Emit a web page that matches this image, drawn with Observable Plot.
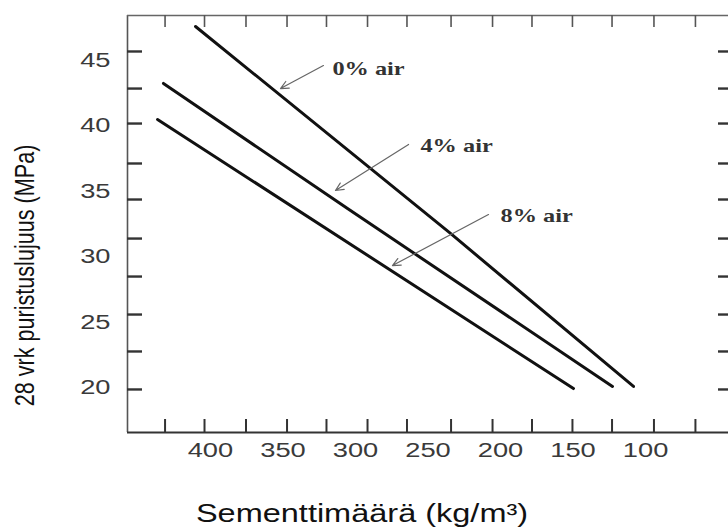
<!DOCTYPE html>
<html><head><meta charset="utf-8">
<script src="https://cdn.jsdelivr.net/npm/d3@7"></script>
<script src="https://cdn.jsdelivr.net/npm/@observablehq/plot@0.6"></script>
<style>html,body{margin:0;padding:0;background:#fff}#chart svg{display:block}</style>
</head><body><div id="chart"></div>
<script>
// ---- data ----
const seriesNames = ["0% air", "4% air", "8% air"];
const cement0 = [410.3, 234.5, 108.3];
const strength0 = [47.56, 31.76, 20.08];
const cement4 = [432.4, 305.5, 122.8];
const strength4 = [43.21, 33.66, 20.08];
const cement8 = [436.5, 241.4, 149.7];
const strength8 = [40.46, 26.49, 19.92];

const xTickLabels = [400, 350, 300, 250, 200, 150, 100];
const yTickLabels = [20, 25, 30, 35, 40, 45];
const xTickMarks = [431.3, 404.1, 375.5, 347.2, 320.0, 291.7, 264.5, 234.1, 205.5, 178.3, 150.4, 123.1, 94.2, 65.6];
const yTickMarks = [45.65, 42.82, 40.15, 37.10, 34.35, 31.37, 28.47, 25.57, 22.75, 19.85];

const labelX = [315.9, 255.2, 200.0];
const labelY = [44.35, 38.47, 33.13];
const arrowFromX = [322.1, 263.4, 208.3];
const arrowFromY = [44.58, 38.55, 33.20];
const arrowToX = [351.7, 313.8, 274.5];
const arrowToY = [42.82, 35.04, 29.31];

const xTitle = "Sementtimäärä (kg/m³)";
const yTitle = "28 vrk puristuslujuus (MPa)";

// ---- tables ----
const xs = [cement0, cement4, cement8];
const ys = [strength0, strength4, strength8];
const lineRows = seriesNames.flatMap((s, i) => xs[i].map((x, j) => ({series: s, x, y: ys[i][j]})));
const annRows = seriesNames.map((s, i) => ({
  text: s, lx: labelX[i], ly: labelY[i],
  x1: arrowFromX[i], y1: arrowFromY[i], x2: arrowToX[i], y2: arrowToY[i]
}));

// ---- scales ----
const X0 = 457.2, X1 = 42.8, Y0 = 16.565, Y1 = 48.397;
const mL = 127, mR = 0, mT = 15, mB = 97, W = 728, H = 529;
const pxX = (W - mL - mR) / (X0 - X1);
const pxY = (H - mT - mB) / (Y1 - Y0);

const sans = "Liberation Sans, Arial, Helvetica, sans-serif";
const serif = "Liberation Serif, Times New Roman, serif";

const plot = Plot.plot({
  width: W, height: H,
  marginLeft: mL, marginRight: mR, marginTop: mT, marginBottom: mB,
  x: {domain: [X0, X1], axis: null},
  y: {domain: [Y0, Y1], axis: null},
  style: {background: "#fff", overflow: "visible"},
  marks: [
    // frame
    Plot.ruleX([X0], {stroke: "#555", strokeWidth: 1.6}),
    Plot.ruleY([Y1], {stroke: "#666", strokeWidth: 1.6}),
    Plot.ruleY([Y0], {stroke: "#333", strokeWidth: 2}),
    // ticks
    Plot.ruleX(xTickMarks, {x: d => d, y1: Y0, y2: Y0 + 13 / pxY, stroke: "#333", strokeWidth: 2}),
    Plot.ruleX(xTickMarks, {x: d => d, y1: Y1, y2: Y1 - 12 / pxY, stroke: "#555", strokeWidth: 1.6}),
    Plot.ruleY(yTickMarks, {y: d => d, x1: X0, x2: X0 - 15 / pxX, stroke: "#333", strokeWidth: 2.4}),
    Plot.ruleY(yTickMarks, {y: d => d, x1: X1, x2: X1 + 10 / pxX, stroke: "#333", strokeWidth: 2.4}),
    // tick labels (text group 0 and 1)
    Plot.text(xTickLabels, {x: d => d, frameAnchor: "bottom", dy: 18, lineAnchor: "middle",
      fontFamily: sans, fontSize: 21, fill: "#3a3a3a"}),
    Plot.text(yTickLabels, {y: d => d, frameAnchor: "left", dx: -17, textAnchor: "end", lineAnchor: "middle",
      fontFamily: sans, fontSize: 21, fill: "#3a3a3a"}),
    // curves
    Plot.line(lineRows, {x: "x", y: "y", z: "series", stroke: "#111", strokeWidth: 3,
      strokeLinecap: "round", strokeLinejoin: "round"}),
    // annotations (text group 2)
    Plot.arrow(annRows, {x1: "x1", y1: "y1", x2: "x2", y2: "y2", stroke: "#666", strokeWidth: 1.2,
      headLength: 11, headAngle: 50}),
    Plot.text(annRows, {x: "lx", y: "ly", text: "text", textAnchor: "start", lineAnchor: "middle",
      fontFamily: serif, fontSize: 19, fontWeight: "bold", fill: "#333"}),
    // titles (text groups 3 and 4)
    Plot.text([xTitle], {frameAnchor: "bottom-left", dx: 234.5, dy: 89, textAnchor: "middle", lineAnchor: "bottom",
      fontFamily: sans, fontSize: 25, fill: "#111"}),
    Plot.text([yTitle], {frameAnchor: "left", dx: -94, dy: 51.5, rotate: -90, textAnchor: "middle", lineAnchor: "bottom",
      fontFamily: sans, fontSize: 21.6, fill: "#111"})
  ]
});
document.getElementById("chart").appendChild(plot);

// the reference is stretched horizontally; mimic it for the text
const textGroups = Array.from(plot.querySelectorAll('g[aria-label="text"]'));
function stretch(idx, sx, sy) {
  const g = textGroups[idx];
  if (!g) return;
  g.querySelectorAll("text").forEach(el => {
    let tr = el.getAttribute("transform");
    if (!tr) {
      const x = +el.getAttribute("x") || 0, y = +el.getAttribute("y") || 0;
      el.removeAttribute("x"); el.removeAttribute("y");
      tr = `translate(${x},${y})`;
    }
    el.setAttribute("transform", `${tr} scale(${sx},${sy})`);
  });
}
stretch(0, 1.3, 1);
stretch(1, 1.3, 1);
stretch(2, 1.28, 1);
stretch(3, 1.3, 1);
stretch(4, 1, 1.3);
</script>
</body></html>
